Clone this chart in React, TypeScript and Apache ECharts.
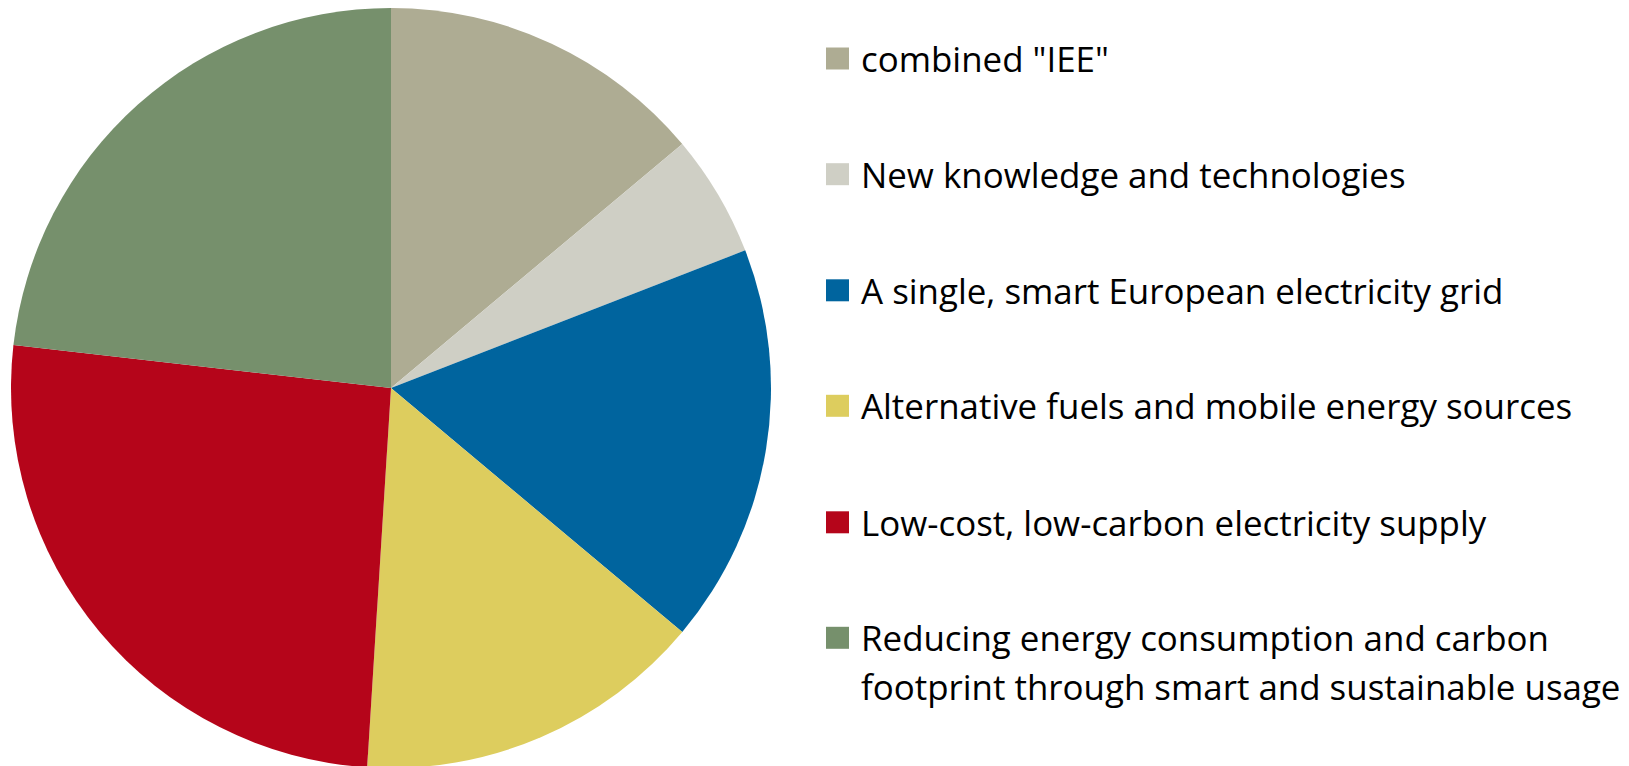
import React, { useEffect, useRef } from "react";
import * as echarts from "echarts";

const categories: string[] = [
  'combined "IEE"',
  "New knowledge and technologies",
  "A single, smart European electricity grid",
  "Alternative fuels and mobile energy sources",
  "Low-cost, low-carbon electricity supply",
  "Reducing energy consumption and carbon footprint through smart and sustainable usage",
];
const shares: number[] = [13.9, 5.2, 17.0, 14.9, 25.8, 23.2];
const sliceColors: string[] = ["#AEAC93", "#CFCFC5", "#00649E", "#DDCD5E", "#B5051A", "#76906C"];

const LEGEND_CENTERS = [58.5, 174.2, 290.3, 405.8, 522.3, 637.8];
const LINE_H = 48.4;
const FONT = "'Open Sans', 'Liberation Sans', sans-serif";

export default function App() {
  const ref = useRef<HTMLDivElement>(null);
  useEffect(() => {
    if (!ref.current) return;
    const chart = echarts.init(ref.current, undefined, { renderer: "svg" });
    const legends = categories.map((name, i) => {
      const multi = i === categories.length - 1;
      return {
        show: true,
        orient: "vertical",
        left: 826,
        top: LEGEND_CENTERS[i] - (multi ? 1.5 : 0.5) * LINE_H,
        padding: 0,
        itemWidth: 23,
        itemHeight: 22,
        icon: "rect",
        data: [name],
        formatter: multi
          ? (n: string) => "\n" + n.replace(" carbon footprint", " carbon\nfootprint")
          : (n: string) => n,
        textStyle: {
          fontFamily: FONT,
          fontSize: 34.9,
          lineHeight: LINE_H,
          color: "#000000",
          padding: [0, 0, 0, 7],
        },
      };
    });
    chart.setOption({
      animation: false,
      backgroundColor: "#ffffff",
      legend: legends,
      series: [
        {
          type: "pie",
          center: [391, 388],
          radius: 380,
          startAngle: 90,
          clockwise: true,
          label: { show: false },
          labelLine: { show: false },
          emphasis: { disabled: true },
          itemStyle: { borderWidth: 0 },
          data: categories.map((name, i) => ({
            name,
            value: shares[i],
            itemStyle: { color: sliceColors[i] },
          })),
        },
      ],
    });
    return () => chart.dispose();
  }, []);
  return (
    <div
      ref={ref}
      style={{ position: "absolute", left: 0, top: 0, width: 1629, height: 766 }}
    />
  );
}
